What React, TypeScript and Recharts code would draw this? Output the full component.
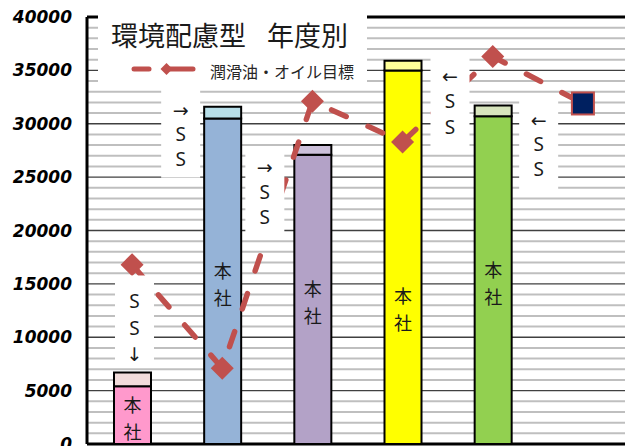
import { ComposedChart, Bar, Line, XAxis, YAxis, CartesianGrid, Cell, LabelList } from 'recharts';

// values
const categories = ['H20年度', 'H21年度', 'H22年度', 'H23年度', 'H24年度', '目標'];
const honshaValues = [5400, 30500, 27100, 35000, 30700, null];
const ssValues = [1300, 1100, 900, 900, 1000, null];
const targetValues = [16800, 7100, 32100, 28300, 36300, 31900];

const yTicks = [0, 5000, 10000, 15000, 20000, 25000, 30000, 35000, 40000];
const majorGrid = [5000, 10000, 15000, 20000, 25000, 30000, 35000];
const frameGrid = [0, 40000];
const minorGrid = [
  1000, 2000, 3000, 4000, 6000, 7000, 8000, 9000, 11000, 12000, 13000, 14000,
  16000, 17000, 18000, 19000, 21000, 22000, 23000, 24000, 26000, 27000, 28000, 29000,
  31000, 32000, 33000, 34000, 36000, 37000, 38000, 39000,
];

const honshaColors = ['#FF99CC', '#95B3D7', '#B3A2C7', '#FFFF00', '#92D050'];
const ssColors = ['#F2DCDB', '#B7DEE8', '#CCC0DA', '#FFFF99', '#D7E4BD'];
const ssNotes = [
  ['S', 'S', '↓'],
  ['→', 'S', 'S'],
  ['→', 'S', 'S'],
  ['←', 'S', 'S'],
  ['←', 'S', 'S'],
];

const data = categories.map((name, i) => ({
  name,
  honsha: honshaValues[i],
  ss: ssValues[i],
  target: targetValues[i],
}));

// where each SS note box sits relative to its bar (center offset, offset from bar top)
const noteBoxes = [
  { dx: 2, dy: -97, h: 89, first: 26, step: 26.5 },
  { dx: -42, dy: -21, h: 92, first: 24, step: 24.5 },
  { dx: -48, dy: 8, h: 84, first: 14, step: 25 },
  { dx: 47, dy: -8, h: 94, first: 23, step: 25.5 },
  { dx: 45.5, dy: -11, h: 95, first: 25, step: 24.5 },
];

const RED = '#C0504D';
const W = 628;
const H = 446;
const MARGIN = { top: 17, right: 0, bottom: 2, left: 0 };
const CJK = '"Noto Sans CJK JP", "Noto Sans", sans-serif';

const HonshaLabel = (props: any) => {
  const { x, y, width, height, index } = props;
  if (index == null || index > 4) return null;
  const cx = x + width / 2;
  const cy = y + height / 2 + (index === 3 ? 49 : 0);
  return (
    <g>
      <text x={cx} y={cy - 11} textAnchor="middle" dominantBaseline="central" fontSize={18} fontFamily={CJK} fill="#1a1a1a">本</text>
      <text x={cx} y={cy + 16} textAnchor="middle" dominantBaseline="central" fontSize={18} fontFamily={CJK} fill="#1a1a1a">社</text>
    </g>
  );
};

const NoteLabel = (props: any) => {
  const { x, y, width, index } = props;
  if (index == null || index > 4) return null;
  const b = noteBoxes[index];
  const cx = x + width / 2 + b.dx;
  const top = y + b.dy;
  return (
    <g>
      <rect x={cx - 19.5} y={top} width={39} height={b.h} fill="#ffffff" />
      {ssNotes[index].map((ch, k) => (
        <text
          key={k}
          x={cx}
          y={top + b.first + k * b.step}
          textAnchor="middle"
          dominantBaseline="central"
          fontSize={ch === 'S' ? 19 : 19}
          fontFamily={ch === 'S' ? '"Noto Sans", sans-serif' : '"DejaVu Sans", sans-serif'}
          fill="#1a1a1a"
        >
          {ch}
        </text>
      ))}
    </g>
  );
};

const TargetDot = (props: any) => {
  const { cx, cy, index } = props;
  if (cx == null || cy == null) return null;
  if (index === targetValues.length - 1) {
    return <rect key={`d${index}`} x={cx - 11} y={cy - 11} width={22} height={22} fill="#002060" stroke={RED} strokeWidth={2} />;
  }
  const r = 11.5;
  return (
    <polygon
      key={`d${index}`}
      points={`${cx},${cy - r} ${cx + r},${cy} ${cx},${cy + r} ${cx - r},${cy}`}
      fill={RED}
    />
  );
};

const tickStyle = {
  fontSize: 17,
  fontWeight: 'bold' as const,
  fontStyle: 'italic' as const,
  fontFamily: '"DejaVu Sans", sans-serif',
  fill: '#000',
};

export default function App() {
  return (
    <div style={{ position: 'absolute', left: 0, top: 0, width: 625, height: 446, overflow: 'hidden', background: '#fff' }}>
      <div style={{ position: 'absolute', left: 0, top: 0 }}>
        <ComposedChart width={W} height={H} data={data} margin={MARGIN}>
          <CartesianGrid vertical={false} horizontalValues={minorGrid} stroke="#BFBFBF" strokeWidth={2} />
          <CartesianGrid vertical={false} horizontalValues={majorGrid} stroke="#404040" strokeWidth={1.3} />
          <CartesianGrid vertical={false} horizontalValues={frameGrid} stroke="#000" strokeWidth={3} />
          <XAxis dataKey="name" hide />
          <YAxis
            width={87}
            domain={[0, 40000]}
            ticks={yTicks}
            interval={0}
            tickLine={false}
            tickSize={0}
            tickMargin={15}
            axisLine={{ stroke: '#000', strokeWidth: 3 }}
            tick={tickStyle}
          />
          <Bar dataKey="honsha" stackId="s" barSize={37} stroke="#000" strokeWidth={2} isAnimationActive={false}>
            {honshaColors.map((c, i) => (
              <Cell key={i} fill={c} />
            ))}
            <LabelList dataKey="honsha" content={HonshaLabel} />
          </Bar>
          <Bar dataKey="ss" stackId="s" barSize={37} stroke="#000" strokeWidth={2} isAnimationActive={false}>
            {ssColors.map((c, i) => (
              <Cell key={i} fill={c} />
            ))}
          </Bar>
          <Line
            dataKey="target"
            stroke={RED}
            strokeWidth={5.5}
            strokeDasharray="16 24"
            strokeLinecap="round"
            dot={TargetDot}
            activeDot={false}
            isAnimationActive={false}
          />
        </ComposedChart>
      </div>

      {/* SS note boxes sit above the target line */}
      <div style={{ position: 'absolute', left: 0, top: 0 }}>
        <ComposedChart width={W} height={H} data={data} margin={MARGIN}>
          <XAxis dataKey="name" hide />
          <YAxis width={87} domain={[0, 40000]} ticks={yTicks} tick={false} tickLine={false} axisLine={false} />
          <Bar dataKey="honsha" stackId="s" barSize={37} fill="none" isAnimationActive={false} />
          <Bar dataKey="ss" stackId="s" barSize={37} fill="none" isAnimationActive={false}>
            <LabelList dataKey="ss" content={NoteLabel} />
          </Bar>
        </ComposedChart>
      </div>

      {/* title and legend box */}
      <svg width={625} height={446} style={{ position: 'absolute', left: 0, top: 0, pointerEvents: 'none' }}>
        <rect x={98} y={0} width={269} height={85} fill="#fff" />
        <text x={111} y={34} dominantBaseline="central" fontSize={27} fontFamily={CJK} fill="#1a1a1a">環境配慮型</text>
        <text x={267} y={34} dominantBaseline="central" fontSize={27} fontFamily={CJK} fill="#1a1a1a">年度別</text>
        <line x1={134} y1={69} x2={149} y2={69} stroke={RED} strokeWidth={5} strokeLinecap="round" />
        <line x1={170} y1={69} x2={193} y2={69} stroke={RED} strokeWidth={5} strokeLinecap="round" />
        <polygon points="166.5,63 172.5,69 166.5,75 160.5,69" fill={RED} />
        <text x={210} y={71} dominantBaseline="central" fontSize={16} fontFamily={CJK} fill="#262626">潤滑油・オイル目標</text>
      </svg>
    </div>
  );
}
